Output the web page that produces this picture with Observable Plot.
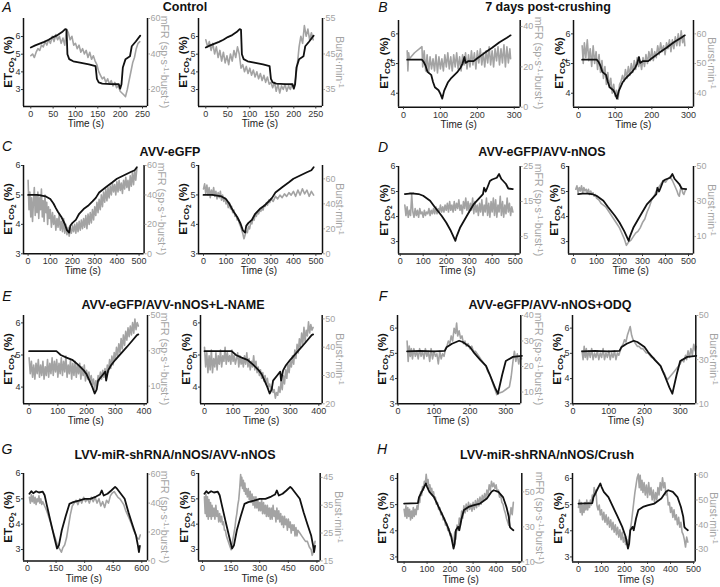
<!DOCTYPE html>
<html><head><meta charset="utf-8">
<script src="https://cdn.jsdelivr.net/npm/d3@7"></script>
<script src="https://cdn.jsdelivr.net/npm/@observablehq/plot@0.6"></script>
<style>
body{margin:0;background:#fff;}
#fig{position:relative;width:720px;height:587px;overflow:hidden;font-family:'Liberation Sans',Arial,Helvetica,sans-serif;background:#fff;}
.lab{position:absolute;white-space:nowrap;transform:translate(-50%,-50%);line-height:1;}
.sb{position:relative;top:0.3em;font-size:0.7em;}
.sb2{position:relative;top:0.25em;font-size:0.8em;}
.sp{position:relative;top:-0.45em;font-size:0.7em;}
</style></head><body><div id="fig"></div>
<script>
// ---------- titles / letters ----------
const groupTitles = ["Control","7 days post-crushing","AVV-eGFP","AVV-eGFP/AVV-nNOS","AVV-eGFP/AVV-nNOS+L-NAME","AVV-eGFP/AVV-nNOS+ODQ","LVV-miR-shRNA/nNOS/AVV-nNOS","LVV-miR-shRNA/nNOS/Crush"];
const groupLetters = ["A","B","C","D","E","F","G","H"];
const mfrLabel = 'mFR (sp·s<span class="sp">-1</span>·burst<span class="sp">-1</span>)';
const burstLabel = 'Burst·min<span class="sp">-1</span>';
const etLabel = 'ET<span class="sb">CO<span class="sb2">2</span></span> (%)';

// ---------- ETCO2 (%) traces ----------
const etA = [[0,5.38],[10,5.5],[20,5.6],[30,5.7],[40,5.82],[50,5.97],[60,6.08],[70,6.25],[77,6.42],[80,6.38],[82,5.0],[86,4.72],[95,4.6],[110,4.52],[130,4.42],[145,4.32],[148,3.6],[152,3.4],[160,3.33],[180,3.31],[197,3.3],[200,3.05],[203,3.3],[206,4.25],[212,4.72],[222,4.88],[226,5.45],[235,5.72],[245,6.05]];
const etB = [[10,5.13],[50,5.13],[55,5.05],[60,4.92],[65,4.72],[75,4.62],[80,4.38],[85,4.2],[95,4.1],[100,3.98],[105,3.82],[110,4.08],[120,4.36],[130,4.52],[145,4.7],[155,4.87],[160,5.0],[165,5.22],[168,5.02],[175,5.08],[190,5.08],[200,5.18],[220,5.36],[240,5.53],[260,5.72],[280,5.87],[290,5.95]];
const etC = [[0,5.0],[40,5.0],[60,4.98],[80,4.95],[100,4.86],[115,4.7],[125,4.55],[135,4.42],[150,4.25],[165,4.02],[175,3.8],[185,3.72],[190,3.95],[200,4.05],[215,4.15],[230,4.36],[250,4.52],[270,4.63],[290,4.78],[305,4.9],[320,5.08],[350,5.26],[380,5.43],[400,5.55],[430,5.66],[460,5.77],[480,5.84],[490,5.94]];
const etD = [[20,4.9],[40,4.92],[60,4.92],[80,4.9],[100,4.83],[130,4.63],[150,4.38],[180,4.03],[200,3.76],[220,3.43],[240,3.03],[245,3.2],[260,3.55],[290,4.03],[320,4.5],[340,4.7],[360,4.9],[365,5.15],[372,5.0],[380,5.18],[390,5.42],[400,5.48],[420,5.55],[430,5.7],[440,5.5],[460,5.3],[470,5.12],[490,5.1]];
const etE = [[0,5.12],[95,5.12],[100,5.08],[110,5.0],[130,4.92],[150,4.85],[170,4.7],[190,4.52],[200,4.4],[210,4.2],[220,4.0],[228,3.8],[235,3.92],[240,4.2],[255,4.37],[265,4.48],[268,4.2],[275,4.52],[285,4.68],[300,4.85],[320,5.05],[340,5.25],[360,5.46],[375,5.62],[380,5.64]];
const etF = [[25,5.08],[60,5.1],[100,5.08],[130,5.1],[135,5.24],[150,5.38],[170,5.5],[180,5.45],[200,5.25],[210,5.05],[230,4.72],[245,4.5],[255,4.17],[270,3.64],[278,3.4],[290,4.15],[300,4.7],[320,4.86],[345,4.9]];
const etG = [[10,5.2],[20,5.3],[30,5.22],[45,5.3],[60,5.25],[80,5.28],[90,5.14],[100,4.8],[120,4.14],[140,3.5],[155,3.04],[165,3.17],[180,3.76],[200,4.3],[210,4.55],[220,4.8],[240,4.87],[270,4.93],[300,5.0],[330,5.0],[360,5.09],[380,5.17],[390,5.33],[400,5.13],[420,5.2],[440,5.33],[460,5.47],[470,5.4],[490,5.2],[510,5.0],[530,4.47],[550,4.0],[570,3.54],[580,3.14],[585,2.9],[590,3.14]];
const etH = [[0,5.04],[60,5.06],[65,5.29],[80,5.55],[95,5.81],[100,5.68],[110,5.49],[130,5.29],[150,4.91],[170,4.54],[190,4.15],[205,3.77],[215,3.32],[220,3.5],[225,4.02],[235,4.15],[240,4.02],[250,4.47],[260,4.79],[280,4.91],[300,4.97],[330,5.04],[360,5.23],[380,5.49],[390,5.55],[410,5.49],[430,5.29],[445,4.91],[455,4.54],[460,4.15],[465,4.09],[475,4.02]];

// ---------- grey traces (mFR or Burst·min-1) ----------
const gA1 = [[0,39],[4,40],[8,38],[12,41],[16,43],[20,42],[24,45],[28,44],[32,47],[36,45],[40,48],[44,46],[48,50],[52,47],[56,51],[60,48],[64,50],[68,46],[72,49],[76,45],[80,54],[84,52],[88,48],[92,50],[96,45],[100,46],[104,43],[108,45],[112,41],[116,43],[120,40],[124,42],[128,38],[132,41],[136,37],[140,39],[144,36],[148,34],[152,30],[156,28],[160,26],[164,27],[168,24],[172,26],[176,23],[180,25],[184,22],[188,24],[192,21],[196,22],[200,19],[204,18],[208,17],[212,16],[216,20],[220,25],[224,30],[228,35],[232,38],[236,43],[240,46],[244,47]];
const gA2 = [[0,49],[4,47],[8,48.5],[12,46],[16,48],[20,45],[24,47],[28,44],[32,46],[36,43],[40,45.5],[44,42.5],[48,44.5],[52,42],[56,45],[60,43],[64,46],[68,44],[72,47],[76,45],[80,41],[84,42],[88,40],[92,41.5],[96,39.5],[100,41],[104,39],[108,40.5],[112,38.5],[116,40],[120,38],[124,39.5],[128,37.5],[132,39],[136,37],[140,38.5],[144,36.5],[148,37],[152,35.5],[156,37],[160,34.5],[164,36.5],[168,34],[172,36],[176,35],[180,36.5],[184,34.5],[188,36],[192,35],[196,36.5],[200,35.5],[204,38],[208,42],[212,47],[216,50],[220,48],[224,53],[228,50],[232,52],[236,49],[240,51],[244,49]];
const gB1 = [[10,28],[12,18],[14,27],[16,24],[30,27],[50,30],[52,20],[56,28],[60,18],[64,26],[68,17],[72,25],[76,19],[80,24],[84,18],[88,26],[92,17],[96,25],[100,19],[104,24],[108,18],[112,26],[116,20],[120,27],[124,19],[128,25],[132,18],[136,26],[140,20],[144,27],[148,19],[152,25],[156,18],[160,26],[164,21],[168,27],[172,19],[176,26],[180,20],[184,28],[188,21],[192,27],[196,19],[200,28],[204,22],[208,29],[212,21],[216,27],[220,20],[224,28],[228,22],[232,30],[236,21],[240,28],[244,20],[248,29],[252,23],[256,30],[260,21],[264,29],[268,22],[272,31],[276,20],[280,30],[284,22],[288,29],[290,24]];
const gB2 = [[10,56],[13,50],[16,57],[20,52],[24,58],[28,51],[32,55],[36,49],[40,56],[44,50],[48,54],[52,48],[56,53],[60,47],[64,51],[68,45],[72,49],[76,43],[80,47],[84,42],[88,45],[92,40],[96,43],[100,39],[104,41],[108,38],[112,43],[116,44],[120,46],[124,44],[128,48],[132,45],[136,49],[140,46],[144,50],[148,47],[152,51],[156,48],[160,52],[164,49],[168,51],[172,48],[176,52],[180,49],[184,53],[188,50],[192,54],[196,51],[200,55],[204,51],[208,54],[212,52],[216,56],[220,53],[224,57],[228,54],[232,56],[236,53],[240,57],[244,55],[248,58],[252,54],[256,58],[260,55],[264,59],[268,56],[272,60],[276,56],[280,61],[284,57],[288,59],[290,56]];
const gC1 = [[0,50],[4,30],[8,42],[12,25],[16,38],[20,22],[24,35],[28,45],[32,26],[36,40],[40,28],[44,42],[48,24],[52,38],[56,30],[60,44],[64,25],[68,36],[72,22],[76,40],[80,28],[84,35],[88,20],[92,32],[96,24],[100,30],[105,18],[110,28],[115,20],[120,26],[125,16],[130,24],[135,18],[140,27],[145,16],[150,22],[155,15],[160,24],[165,14],[170,20],[175,13],[180,18],[185,12],[190,17],[195,14],[200,19],[205,15],[210,20],[215,14],[220,21],[225,15],[230,22],[235,16],[240,23],[245,17],[250,24],[255,18],[260,26],[265,17],[270,27],[275,20],[280,28],[285,21],[290,30],[295,23],[300,32],[305,26],[310,35],[315,28],[320,37],[325,30],[330,40],[335,32],[340,42],[345,35],[350,44],[355,36],[360,45],[365,38],[370,46],[375,40],[380,48],[385,42],[390,47],[395,40],[400,49],[405,42],[410,50],[415,43],[420,48],[425,41],[430,50],[435,44],[440,52],[445,45],[450,50],[455,43],[460,53],[465,46],[470,55],[475,47],[480,56],[485,50],[490,58]];
const gC2 = [[0,52],[5,56],[10,48],[15,55],[20,47],[25,53],[30,45],[35,51],[40,47],[45,53],[50,46],[55,50],[60,44],[65,49],[70,45],[75,50],[80,43],[85,47],[90,42],[95,45],[100,40],[105,42],[110,37],[115,41],[120,36],[125,38],[130,33],[135,35],[140,30],[145,31],[150,27],[155,28],[160,24],[165,22],[170,19],[175,16],[180,12],[185,15],[190,18],[195,17],[200,22],[205,20],[210,25],[215,24],[220,28],[225,27],[230,31],[235,30],[240,33],[245,32],[250,35],[255,34],[260,37],[265,35],[270,39],[275,38],[280,41],[285,39],[290,43],[295,41],[300,44],[310,42],[320,46],[330,44],[340,47],[350,45],[360,48],[370,46],[380,49],[390,47],[400,50],[410,46],[420,51],[430,47],[440,52],[450,48],[460,51],[470,46],[480,50],[490,47]];
const gD1 = [[20,14],[25,11],[30,13.5],[35,10.5],[40,12.5],[45,11],[50,17],[55,12],[60,10.5],[65,13],[70,11],[75,12.5],[80,10.5],[85,13],[90,11.5],[95,12],[100,10.5],[105,12.5],[110,11],[115,12],[120,11.5],[125,13],[130,11],[135,12.5],[140,11.5],[145,13],[150,11.5],[155,13.5],[160,11.5],[165,13],[170,12],[175,14],[180,12],[185,13.5],[190,12],[195,14],[200,12.5],[205,14.5],[210,12],[215,15],[220,12.5],[225,14],[230,12],[235,15],[240,12.5],[245,14.5],[250,13],[255,15.5],[260,12.5],[265,14],[270,11.5],[275,15],[280,13],[285,16],[290,12.5],[295,15],[300,12],[305,14.5],[310,12.5],[315,16],[320,11.5],[325,15],[330,12],[335,14],[340,11],[345,14.5],[350,12],[355,15.5],[360,11],[365,14],[370,12],[375,16],[380,11],[385,14.5],[390,10.5],[395,15],[400,12],[405,16],[410,11],[415,15.5],[420,10.5],[425,14],[430,12],[435,16.5],[440,11],[445,15],[450,10.5],[455,14],[460,11.5],[465,16],[470,12],[475,14.5],[480,11],[485,13.5],[490,12]];
const gD2 = [[10,37],[15,39],[20,35],[25,38],[30,36],[35,39],[40,35],[45,38],[50,36],[55,37],[60,35],[65,37],[70,34],[75,36],[80,34],[85,35],[90,33],[95,34],[100,32],[110,31],[120,29],[130,28],[140,27],[150,25],[160,23],[170,21],[180,19],[190,17],[200,15],[210,12],[220,9],[230,5],[235,6],[240,7],[250,8],[260,10],[270,12],[280,13],[290,15],[300,18],[310,20],[320,24],[330,27],[340,31],[350,33],[360,36],[370,38],[380,40],[390,42],[400,41],[410,43],[420,44],[430,42],[440,39],[450,36],[455,34],[460,33],[465,37],[470,38],[475,35],[480,34],[485,36],[490,37]];
const gE1 = [[0,26],[4,17],[8,24],[12,15],[16,22],[20,14],[24,23],[28,17],[32,25],[36,15],[40,22],[44,16],[48,24],[52,14],[56,21],[60,16],[64,25],[68,15],[72,23],[76,17],[80,26],[84,16],[88,24],[92,18],[96,25],[100,15],[104,23],[108,17],[112,26],[116,16],[120,24],[124,18],[128,27],[132,15],[136,22],[140,17],[144,25],[148,14],[152,23],[156,16],[160,24],[164,15],[168,22],[172,17],[176,23],[180,14],[184,21],[188,16],[192,22],[196,13],[200,19],[204,14],[208,18],[212,12],[216,16],[220,11],[224,14],[228,8],[232,13],[236,10],[240,16],[244,13],[248,18],[252,14],[256,19],[260,15],[264,20],[268,14],[272,22],[276,18],[280,25],[284,20],[288,27],[292,22],[296,29],[300,25],[304,32],[308,27],[312,34],[316,29],[320,37],[324,31],[328,39],[332,33],[336,41],[340,36],[344,43],[348,38],[352,44],[356,39],[360,46],[364,40],[368,48],[372,42],[376,46],[380,44]];
const gE2 = [[0,40],[4,33],[8,38],[12,31],[16,37],[20,32],[24,39],[28,31],[32,36],[36,33],[40,38],[44,32],[48,37],[52,34],[56,39],[60,33],[64,37],[68,35],[72,40],[76,34],[80,38],[84,35],[88,37],[92,34],[96,39],[100,35],[104,37],[108,34],[112,36],[116,38],[120,33],[124,37],[128,34],[132,36],[136,33],[140,37],[144,34],[148,38],[152,33],[156,36],[160,32],[164,35],[168,33],[172,37],[176,32],[180,35],[184,31],[188,33],[192,30],[196,32],[200,29],[204,31],[208,28],[212,30],[216,27],[220,29],[224,26],[228,27],[232,25],[236,26],[240,24],[244,25],[248,22],[252,24],[256,23],[260,26],[264,24],[268,28],[272,25],[276,30],[280,27],[284,32],[288,29],[292,34],[296,31],[300,35],[304,33],[308,37],[312,34],[316,39],[320,36],[324,41],[328,38],[332,43],[336,40],[340,45],[344,41],[348,47],[352,42],[356,46],[360,44],[364,49],[368,45],[372,48],[376,46],[380,47]];
const gF1 = [[25,30],[28,22],[31,28],[34,24],[37,27],[40,23],[44,27],[48,24],[52,26],[56,23],[60,27],[64,24],[68,26],[72,23],[76,27],[80,24],[84,26],[88,22],[92,27],[96,23],[100,26],[104,24],[108,25],[112,21],[116,26],[120,23],[124,25],[128,24],[132,27],[136,28],[140,30],[144,29],[148,32],[152,30],[156,35],[160,33],[163,37],[166,32],[170,34],[174,31],[178,32],[182,29],[186,30],[190,28],[195,29],[200,27],[205,28],[210,26],[215,26],[220,25],[225,24],[230,23],[235,22],[240,21],[245,20],[250,18],[255,17],[260,15],[265,13],[270,11],[275,9],[280,9.5],[290,10],[300,11],[310,12],[315,16],[320,22],[324,26],[328,22],[332,25],[336,21],[340,24],[344,23]];
const gF2 = [[25,34],[28,30],[31,36],[34,31],[37,35],[40,30],[44,34],[48,31],[52,35],[56,30],[60,33],[64,31],[68,34],[72,30],[76,33],[80,31],[84,35],[88,30],[92,33],[96,31],[100,34],[104,30],[108,33],[112,31],[116,34],[120,30],[124,33],[128,32],[132,34],[136,36],[140,37],[144,39],[148,38],[152,41],[156,43],[160,45],[164,41],[168,39],[172,38],[176,37],[180,36],[185,36],[190,35],[195,35],[200,34],[205,33],[210,33],[215,32],[220,31],[225,31],[230,30],[235,29],[240,28],[245,27],[250,25],[255,24],[260,22],[265,21],[270,22],[280,24],[290,26],[300,28],[305,30],[310,29],[315,32],[318,30],[322,34],[326,31],[330,35],[334,32],[338,37],[342,34],[345,36]];
const gG1 = [[10,44],[15,40],[20,46],[25,41],[30,45],[35,40],[40,44],[45,39],[50,43],[55,41],[60,45],[65,40],[70,43],[75,39],[80,41],[90,38],[100,35],[110,31],[120,27],[130,22],[140,18],[150,14],[160,10],[170,8],[178,6],[185,9],[195,11],[205,16],[215,24],[225,32],[235,38],[245,40],[255,42],[265,39],[275,43],[285,40],[295,44],[305,41],[315,43],[325,40],[335,44],[345,41],[355,44],[365,40],[375,43],[385,38],[395,41],[405,37],[415,42],[425,40],[435,45],[445,47],[455,48],[465,46],[475,44],[485,43],[495,41],[505,39],[515,35],[525,32],[535,29],[545,26],[555,22],[565,19],[575,16],[585,15],[592,18]];
const gG2 = [[10,38],[14,32],[18,39],[22,31],[26,38],[30,30],[34,37],[38,31],[42,36],[46,30],[50,35],[55,31],[60,34],[65,30],[70,35],[75,31],[80,33],[85,29],[90,32],[95,29],[100,31],[105,28],[110,29],[115,26],[120,26],[125,24],[130,23],[135,22],[140,21],[145,20],[150,19],[155,21],[160,23],[165,25],[170,27],[175,30],[180,32],[185,35],[190,37],[195,41],[200,46],[203,42],[206,45],[210,41],[214,44],[218,40],[222,43],[226,39],[230,41],[235,38],[240,41],[245,37],[250,40],[255,36],[260,39],[265,35],[270,38],[275,34],[280,38],[285,34],[290,37],[295,33],[300,36],[305,33],[310,37],[315,32],[320,36],[325,32],[330,35],[335,31],[340,35],[345,31],[350,34],[355,30],[360,34],[365,30],[370,35],[375,31],[380,33],[385,29],[390,34],[395,30],[400,33],[405,29],[410,32],[415,28],[420,31],[425,27],[430,31],[435,28],[440,30],[445,26],[450,30],[455,27],[460,29],[465,25],[470,28],[475,26],[480,28],[485,24],[490,27],[495,24],[500,26],[510,25],[520,24],[530,23],[540,22],[550,22],[560,20],[570,19],[575,17],[580,18],[585,20],[590,22]];
const gH1 = [[0,40],[4,36],[8,42],[12,35],[16,41],[20,36],[24,40],[28,34],[32,39],[36,35],[40,41],[44,36],[48,40],[52,37],[56,42],[60,40],[64,46],[68,44],[72,50],[76,48],[80,53],[84,51],[88,56],[92,54],[96,60],[100,55],[104,57],[108,52],[112,54],[116,50],[120,52],[124,48],[128,50],[132,46],[136,47],[140,43],[145,44],[150,40],[155,41],[160,37],[165,38],[170,34],[175,35],[180,31],[185,32],[190,28],[195,29],[200,25],[205,26],[210,22],[215,20],[220,27],[225,23],[230,31],[235,28],[240,35],[245,31],[250,39],[255,35],[260,42],[265,38],[270,43],[275,39],[280,44],[285,40],[290,43],[295,39],[300,44],[305,40],[310,45],[315,41],[320,46],[325,42],[330,47],[335,43],[340,48],[345,45],[350,49],[355,46],[360,51],[365,48],[370,54],[375,51],[380,56],[385,53],[390,55],[395,52],[400,54],[405,50],[410,51],[415,47],[420,48],[425,44],[430,43],[435,40],[440,38],[445,35],[450,33],[455,31],[460,36],[465,41],[470,37],[475,44]];
const gH2 = [[0,47],[4,50],[8,45],[12,49],[16,44],[20,48],[24,45],[28,49],[32,46],[36,50],[40,46],[44,49],[48,47],[52,50],[56,48],[60,52],[64,50],[68,55],[72,52],[76,54],[80,48],[85,46],[90,48],[95,44],[100,46],[105,42],[110,45],[115,41],[120,44],[125,40],[130,43],[135,39],[140,42],[145,38],[150,41],[155,37],[160,40],[165,36],[170,39],[175,35],[180,38],[185,34],[190,37],[195,33],[200,35],[205,32],[210,34],[215,31],[220,35],[225,38],[230,41],[235,45],[240,49],[245,53],[250,56],[255,59],[260,60.5],[264,55],[268,60],[272,54],[276,58],[280,53],[285,57],[290,52],[295,56],[300,51],[305,57],[310,52],[315,55],[320,50],[325,54],[330,49],[335,53],[340,50],[345,55],[350,52],[355,57],[360,54],[365,59],[370,55],[375,57],[380,52],[385,53],[390,48],[395,49],[400,45],[405,47],[410,43],[415,46],[420,42],[425,44],[430,40],[435,43],[440,39],[445,41],[450,37],[455,36],[460,34],[465,31],[470,35],[475,33]];

// ---------- ticks ----------
const xtA=[0,50,100,150,200,250], xtB=[0,100,200,300], xt500=[0,100,200,300,400,500], xtE=[0,100,200,300,400], xtG=[0,150,300,450,600];
const yt3456=[3,4,5,6], yt456=[4,5,6];

// ---------- layout (positions and scale extents) ----------
const panels = [
 {L:22.7,R:146.7,T:18,B:106,xd:[-16.3,261.2],yd:[2.04,7.02],rd:[10.4,60],xt:xtA,yt:yt3456,rt:[20,40,60],et:etA,grey:gA1,rlab:mfrLabel},
 {L:197.7,R:321.7,T:18,B:106,xd:[-16.6,265.2],yd:[2.04,7.02],rd:[30.2,55],xt:xtA,yt:yt3456,rt:[35,45,55],et:etA,grey:gA2,rlab:burstLabel},
 {L:398.3,R:520,T:20,B:106.7,xd:[-13.5,316],yd:[3.53,6.45],rd:[0,43],xt:xtB,yt:yt456,rt:[0,20,40],et:etB,grey:gB1,rlab:mfrLabel},
 {L:573.3,R:693.3,T:20,B:106.7,xd:[-13.6,313.6],yd:[3.53,6.45],rd:[35.3,64.5],xt:xtB,yt:yt456,rt:[40,50,60],et:etB,grey:gB2,rlab:burstLabel},
 {L:22.7,R:143.3,T:165,B:253.3,xd:[-20.7,522.5],yd:[3,6],rd:[0,60],xt:xt500,yt:yt3456,rt:[0,20,40,60],et:etC,grey:gC1,rlab:mfrLabel},
 {L:197.7,R:321.7,T:165,B:253.3,xd:[-22.3,529.4],yd:[3,6],rd:[0,70.7],xt:xt500,yt:yt3456,rt:[0,20,40,60],et:etC,grey:gC2,rlab:burstLabel},
 {L:398.3,R:520,T:165.7,B:253.3,xd:[-7.4,521.7],yd:[2.5,6],rd:[0,25],xt:xt500,yt:yt3456,rt:[5,15,25],et:etD,grey:gD1,rlab:mfrLabel},
 {L:568.3,R:693.3,T:165.7,B:253.3,xd:[-21.7,521.7],yd:[2.5,6],rd:[0,50],xt:xt500,yt:yt3456,rt:[10,30,50],et:etD,grey:gD2,rlab:burstLabel},
 {L:22.7,R:146.7,T:315,B:403.3,xd:[-19.5,411.8],yd:[3.48,6.23],rd:[0,50],xt:xtE,yt:yt456,rt:[10,30,50],et:etE,grey:gE1,rlab:mfrLabel},
 {L:200,R:321.7,T:315,B:403.3,xd:[-14,411.8],yd:[3.48,6.23],rd:[20,51.2],xt:xtE,yt:yt456,rt:[20,30,40,50],et:etE,grey:gE2,rlab:burstLabel},
 {L:396.7,R:520,T:315,B:403.3,xd:[-1.7,341.8],yd:[3,6.5],rd:[5.4,40],xt:xtB,yt:yt3456,rt:[10,20,30,40],et:etF,grey:gF1,rlab:mfrLabel},
 {L:571.7,R:695,T:315,B:403.3,xd:[-1.7,343.7],yd:[3,6.5],rd:[10,50],xt:xtB,yt:yt3456,rt:[10,30,50],et:etF,grey:gF2,rlab:burstLabel},
 {L:22.7,R:146.7,T:473.3,B:560.7,xd:[-21,630],yd:[2.55,6],rd:[0,60.5],xt:xtG,yt:yt3456,rt:[0,20,40,60],et:etG,grey:gG1,rlab:mfrLabel},
 {L:198.3,R:320,T:473.3,B:560.7,xd:[-21,617],yd:[2.55,6],rd:[15,46.4],xt:xtG,yt:yt3456,rt:[15,25,35,45],et:etG,grey:gG2,rlab:burstLabel},
 {L:396.7,R:521,T:473.3,B:561.7,xd:[-28.7,511.7],yd:[2.81,6.19],rd:[10,60.5],xt:xt500,yt:yt3456,rt:[10,30,50],et:etH,grey:gH1,rlab:mfrLabel},
 {L:572.3,R:695,T:473.3,B:561.7,xd:[-26,507],yd:[2.81,6.19],rd:[25,60.7],xt:xt500,yt:yt3456,rt:[30,40,50,60],et:etH,grey:gH2,rlab:burstLabel}
];
const titlePos = [[185,7],[548,7],[170,152],[542,152],[173,305],[550,305],[175,455],[547,455]];
const letterPos = [[7,7],[383,7],[7,146],[383,147],[7,296],[383,296],[7,449],[382,449]];

const FONT = "'Liberation Sans', Arial, Helvetica, sans-serif";
const GREY = "#a3a3a3";
const fig = document.getElementById("fig");
const fmt = d => String(d);

function addDiv(html, x, y, style) {
  const d = document.createElement("div");
  d.className = "lab";
  d.innerHTML = html;
  d.style.left = x + "px";
  d.style.top = y + "px";
  Object.assign(d.style, style || {});
  fig.appendChild(d);
  return d;
}

function drawPanel(p) {
  const mL = 30, mR = 30, mT = 10, mB = 22;
  const W = p.R - p.L + mL + mR, H = p.B - p.T + mT + mB;
  const base = {width: W, height: H, marginLeft: mL, marginRight: mR, marginTop: mT, marginBottom: mB,
    style: {background: "transparent", overflow: "visible", fontFamily: FONT}};
  const xy = {x: d => d[0], y: d => d[1]};
  const g = Plot.plot({...base, x: {domain: p.xd, axis: null}, y: {domain: p.rd}, marks: [
    Plot.line(p.grey, {...xy, stroke: GREY, strokeWidth: 1.6, strokeLinejoin: "round"}),
    Plot.ruleX([p.xd[1]], {stroke: "#111", strokeWidth: 1.5}),
    Plot.axisY({anchor: "right", ticks: p.rt, tickFormat: fmt, tickSize: 2, tickPadding: 1, fontSize: 9, color: GREY, label: null})
  ]});
  const b = Plot.plot({...base, x: {domain: p.xd}, y: {domain: p.yd}, marks: [
    Plot.ruleY([p.yd[0]], {stroke: "#111", strokeWidth: 1.5}),
    Plot.ruleX([p.xd[0]], {stroke: "#111", strokeWidth: 1.5}),
    Plot.axisY({anchor: "left", ticks: p.yt, tickFormat: fmt, tickSize: 2, tickPadding: 1, fontSize: 9, color: "#333", label: null}),
    Plot.axisX({anchor: "bottom", ticks: p.xt, tickFormat: fmt, tickSize: 2.5, tickPadding: 1.5, fontSize: 9, color: "#333", label: null}),
    Plot.line(p.et, {...xy, stroke: "#111", strokeWidth: 1.8, strokeLinejoin: "round"})
  ]});
  for (const svg of [g, b]) {
    svg.style.position = "absolute";
    svg.style.left = (p.L - mL) + "px";
    svg.style.top = (p.T - mT) + "px";
    fig.appendChild(svg);
  }
  const sx = b.scale("x");
  const cx = p.L - mL + (sx.apply(p.xt[0]) + sx.apply(p.xt[p.xt.length - 1])) / 2;
  addDiv("Time (s)", cx, p.B + 18, {fontSize: "10px", color: "#222"});
  addDiv(etLabel, p.L - 13.5, (p.T + p.B) / 2,
    {fontSize: "11.5px", fontWeight: "bold", color: "#111", transform: "translate(-50%,-50%) rotate(-90deg)"});
  addDiv(p.rlab, p.R + 18.5, (p.T + p.B) / 2,
    {fontSize: "10.5px", color: GREY, transform: "translate(-50%,-50%) rotate(90deg)"});
}

panels.forEach(drawPanel);
groupTitles.forEach((t, i) => addDiv(t, titlePos[i][0], titlePos[i][1], {fontSize: "12.5px", fontWeight: "bold", color: "#111"}));
groupLetters.forEach((t, i) => addDiv(t, letterPos[i][0], letterPos[i][1], {fontSize: "14px", fontStyle: "italic", color: "#111"}));
</script></body></html>
